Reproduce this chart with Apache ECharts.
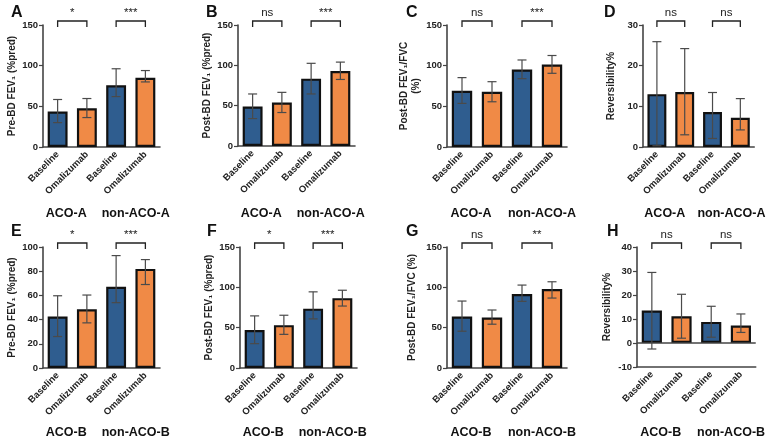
<!DOCTYPE html>
<html>
<head>
<meta charset="utf-8">
<script src="https://cdn.jsdelivr.net/npm/echarts@6/dist/echarts.min.js"></script>
<style>
html,body{margin:0;padding:0;background:#fff;}
#main{width:767px;height:443px;}
</style>
</head>
<body>
<div id="main"></div>
<script>
// bars: Baseline / Omalizumab for each group
var categories = ['Baseline', 'Omalizumab', 'Baseline', 'Omalizumab'];
var groupsA = ['ACO-A', 'non-ACO-A'];
var groupsB = ['ACO-B', 'non-ACO-B'];

// A  Pre-BD FEV1 (%pred)
var meanA = [43.5, 47.5, 76, 85];
var hiA = [58.4, 59.6, 96.2, 94];
var loA = [30, 36.2, 62, 80];
var sigA = ['*', '***'];
// B  Post-BD FEV1 (%pred)
var meanB = [49, 54, 83.5, 93];
var hiB = [64.5, 66.5, 102.5, 104];
var loB = [34, 41.5, 64.5, 82.5];
var sigB = ['ns', '***'];
// C  Post-BD FEV1/FVC (%)
var meanC = [69.2, 68, 95.2, 101.4];
var hiC = [85.3, 80.3, 107, 112.5];
var loC = [53.6, 55.6, 84, 90.6];
var sigC = ['ns', '***'];
// D  Reversibility%
var meanD = [13, 13.5, 8.6, 7.2];
var hiD = [25.9, 24.2, 13.4, 11.9];
var loD = [0.3, 3, 2.1, 4.2];
var sigD = ['ns', 'ns'];
// E  Pre-BD FEV1 (%pred)
var meanE = [42.5, 48.5, 67.1, 81.9];
var hiE = [59.7, 60.3, 92.9, 89.6];
var loE = [26, 37.3, 54, 69];
var sigE = ['*', '***'];
// F  Post-BD FEV1 (%pred)
var meanF = [47, 53.1, 73.6, 86.6];
var hiF = [64.6, 65.4, 94.4, 96.4];
var loF = [30.2, 41.7, 60.9, 76.8];
var sigF = ['*', '***'];
// G  Post-BD FEV1/FVC (%)
var meanG = [63.7, 62.5, 91.7, 97.8];
var hiG = [83, 71.9, 102.8, 106.9];
var loG = [45.6, 54.3, 82.6, 86.7];
var sigG = ['ns', '**'];
// H  Reversibility%
var meanH = [13.5, 11.1, 8.8, 7.3];
var hiH = [29.4, 20.3, 15.3, 12.1];
var loH = [-2.5, 2, 2.4, 4.4];
var sigH = ['ns', 'ns'];

var barColors = ['#2f5d8f', '#f08a46', '#2f5d8f', '#f08a46'];
var font = "'Liberation Sans', Arial, 'DejaVu Sans', sans-serif";

var panels = [
    {tag: 'A', mean: meanA, hi: hiA, lo: loA, sig: sigA, groups: groupsA, name: 'Pre-BD FEV\u2081 (%pred)', min: 0, max: 150, step: 50,
     left: 43, top: 25, width: 117, height: 122, gap: 25, tx: 11, ty: 5, off: 54},
    {tag: 'B', mean: meanB, hi: hiB, lo: loB, sig: sigB, groups: groupsA, name: 'Post-BD FEV\u2081 (%pred)', min: 0, max: 150, step: 50,
     left: 238, top: 25, width: 117, height: 121, gap: 22, tx: 206, ty: 5, off: 55},
    {tag: 'C', mean: meanC, hi: hiC, lo: loC, sig: sigC, groups: groupsA, name: 'Post-BD FEV\u2081/FVC\n(%)', min: 0, max: 150, step: 50,
     left: 447, top: 25, width: 120, height: 122, gap: 20, tx: 406, ty: 5, off: 54},
    {tag: 'D', mean: meanD, hi: hiD, lo: loD, sig: sigD, groups: groupsA, name: 'Reversibility%', min: 0, max: 30, step: 10,
     left: 643, top: 25, width: 117, height: 122, gap: 26, tx: 604, ty: 5, off: 54},
    {tag: 'E', mean: meanE, hi: hiE, lo: loE, sig: sigE, groups: groupsB, name: 'Pre-BD FEV\u2081 (%pred)', min: 0, max: 100, step: 20,
     left: 43, top: 247, width: 117, height: 121, gap: 25, tx: 11, ty: 224, off: 52},
    {tag: 'F', mean: meanF, hi: hiF, lo: loF, sig: sigF, groups: groupsB, name: 'Post-BD FEV\u2081 (%pred)', min: 0, max: 150, step: 50,
     left: 240, top: 247, width: 117, height: 121, gap: 23, tx: 207, ty: 224, off: 52},
    {tag: 'G', mean: meanG, hi: hiG, lo: loG, sig: sigG, groups: groupsB, name: 'Post-BD FEV\u2081/FVC (%)', min: 0, max: 150, step: 50,
     left: 447, top: 247, width: 120, height: 121, gap: 29, tx: 406, ty: 224, off: 52},
    {tag: 'H', mean: meanH, hi: hiH, lo: loH, sig: sigH, groups: groupsB, name: 'Reversibility%', min: -10, max: 40, step: 10,
     left: 637, top: 247, width: 123, height: 120, gap: 24, tx: 607, ty: 224, off: 53}
];

function errItem(params, api) {
    var x = api.value(0);
    var top = api.coord([x, api.value(2)]);
    var bot = api.coord([x, api.value(1)]);
    var w = 4.5;
    var st = {stroke: '#4a4a4a', lineWidth: 1.2};
    return {type: 'group', children: [
        {type: 'line', shape: {x1: top[0], y1: top[1], x2: bot[0], y2: bot[1]}, style: st},
        {type: 'line', shape: {x1: top[0] - w, y1: top[1], x2: top[0] + w, y2: top[1]}, style: st},
        {type: 'line', shape: {x1: bot[0] - w, y1: bot[1], x2: bot[0] + w, y2: bot[1]}, style: st}
    ]};
}

function bracketItem(p) {
    return function (params, api) {
        var a = api.coord([api.value(0), p.max]);
        var b = api.coord([api.value(1), p.max]);
        var top = a[1] - 4;
        return {type: 'group', children: [
            {type: 'polyline', shape: {points: [[a[0], top + 6], [a[0], top], [b[0], top], [b[0], top + 6]]},
             style: {stroke: '#222', lineWidth: 1.3, fill: null}},
            {type: 'text', x: (a[0] + b[0]) / 2, y: top - 2,
             style: {text: p.sig[params.dataIndex], fill: '#222', font: '11.5px ' + font, align: 'center', verticalAlign: 'bottom'}}
        ]};
    };
}

var option = {animation: false, title: [], grid: [], xAxis: [], yAxis: [], series: []};

panels.forEach(function (p, i) {
    option.title.push({text: p.tag, left: p.tx, top: p.ty, padding: 0,
        textStyle: {fontSize: 16, fontWeight: 'bold', color: '#111', fontFamily: font}});
    option.grid.push({left: p.left, top: p.top, width: p.width, height: p.height});
    option.xAxis.push({
        type: 'category', gridIndex: i, data: categories,
        axisLine: {onZero: false, lineStyle: {color: '#444', width: 1.6}},
        axisTick: {alignWithLabel: true, length: 4, lineStyle: {color: '#444', width: 1.2}},
        axisLabel: {rotate: 45, interval: 0, margin: 6, fontSize: 9.5, fontWeight: 'bold', color: '#222', fontFamily: font}
    });
    option.xAxis.push({
        type: 'category', gridIndex: i, data: p.groups, position: 'bottom', offset: p.off,
        axisLine: {show: false}, axisTick: {show: false},
        axisLabel: {
            interval: 0, margin: 6, fontSize: 12.5, fontWeight: 'bold', color: '#111', fontFamily: font,
            formatter: function (v, k) { return k === 0 ? '{l|' + v + '}' : '{r|' + v + '}'; },
            rich: {
                l: {fontSize: 12.5, fontWeight: 'bold', color: '#111', fontFamily: font, padding: [0, 12, 0, 0]},
                r: {fontSize: 12.5, fontWeight: 'bold', color: '#111', fontFamily: font, padding: [0, 0, 0, 10]}
            }
        }
    });
    option.yAxis.push({
        type: 'value', gridIndex: i, min: p.min, max: p.max, interval: p.step,
        name: p.name, nameLocation: 'middle', nameGap: p.gap,
        nameTextStyle: {fontSize: 10, fontWeight: 'bold', color: '#222', fontFamily: font, lineHeight: 12},
        axisLine: {show: true, lineStyle: {color: '#444', width: 1.6}},
        axisTick: {show: true, length: 4, lineStyle: {color: '#444', width: 1.2}},
        axisLabel: {margin: 5, fontSize: 9.5, fontWeight: 'bold', color: '#222', fontFamily: font},
        splitLine: {show: false}
    });
    var bar = {
        type: 'bar', xAxisIndex: i * 2, yAxisIndex: i, barWidth: '68%',
        data: p.mean.map(function (v, k) {
            return {value: v, itemStyle: {color: barColors[k]}};
        }),
        itemStyle: {borderColor: '#111', borderWidth: 2.2}
    };
    if (p.min < 0) {
        bar.markLine = {silent: true, symbol: 'none', label: {show: false},
            lineStyle: {color: '#444', width: 1.6, type: 'solid'}, data: [{yAxis: 0}]};
    }
    option.series.push(bar);
    option.series.push({
        type: 'custom', xAxisIndex: i * 2, yAxisIndex: i, z: 5, clip: false,
        renderItem: errItem,
        data: p.mean.map(function (v, k) { return [k, p.lo[k], p.hi[k]]; })
    });
    option.series.push({
        type: 'custom', xAxisIndex: i * 2, yAxisIndex: i, z: 5, clip: false,
        renderItem: bracketItem(p),
        data: [[0, 1], [2, 3]]
    });
});

var chart = echarts.init(document.getElementById('main'));
chart.setOption(option);
</script>
</body>
</html>
